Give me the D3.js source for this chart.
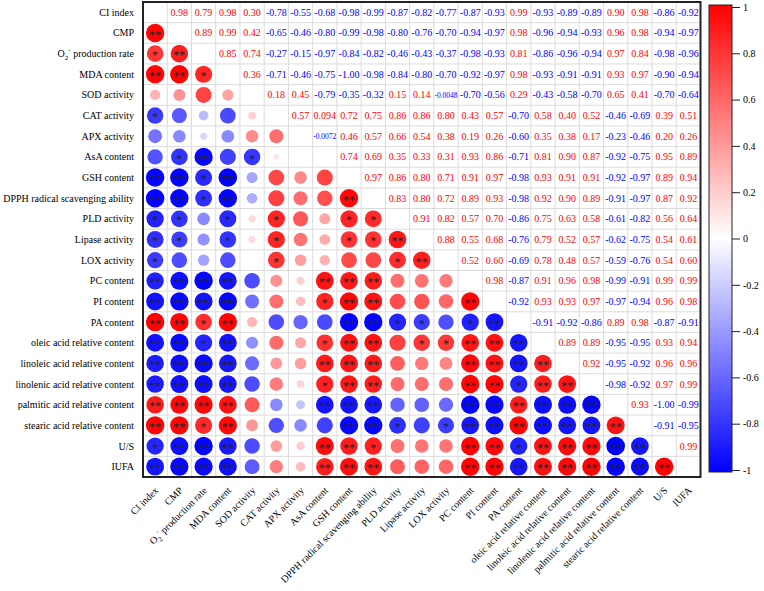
<!DOCTYPE html>
<html><head><meta charset="utf-8">
<script src="https://cdn.jsdelivr.net/npm/d3@7"></script>
<style>body{margin:0;background:#fff}</style>
</head><body>
<svg id="c" width="764" height="591"></svg>
<script>
const variables = ["CI index","CMP","O2- production rate","MDA content","SOD activity","CAT activity","APX activity","AsA content","GSH content","DPPH radical scavenging ability","PLD activity","Lipase activity","LOX activity","PC content","PI content","PA content","oleic acid relative content","linoleic acid relative content","linolenic acid relative content","palmitic acid relative content","stearic acid relative content","U/S","IUFA"];

// upper triangle: row a, values for columns a+1 .. 22
const upperRows = [
 [0.98,0.79,0.98,0.30,-0.78,-0.55,-0.68,-0.98,-0.99,-0.87,-0.82,-0.77,-0.87,-0.93,0.99,-0.93,-0.89,-0.89,0.90,0.98,-0.86,-0.92],
 [0.89,0.99,0.42,-0.65,-0.46,-0.80,-0.99,-0.98,-0.80,-0.76,-0.70,-0.94,-0.97,0.98,-0.96,-0.94,-0.93,0.96,0.98,-0.94,-0.97],
 [0.85,0.74,-0.27,-0.15,-0.97,-0.84,-0.82,-0.46,-0.43,-0.37,-0.98,-0.93,0.81,-0.86,-0.96,-0.94,0.97,0.84,-0.98,-0.96],
 [0.36,-0.71,-0.46,-0.75,-1.00,-0.98,-0.84,-0.80,-0.70,-0.92,-0.97,0.98,-0.93,-0.91,-0.91,0.93,0.97,-0.90,-0.94],
 [0.18,0.45,-0.79,-0.35,-0.32,0.15,0.14,-0.0048,-0.70,-0.56,0.29,-0.43,-0.58,-0.70,0.65,0.41,-0.70,-0.64],
 [0.57,0.094,0.72,0.75,0.86,0.86,0.80,0.43,0.57,-0.70,0.58,0.40,0.52,-0.46,-0.69,0.39,0.51],
 [-0.0072,0.46,0.57,0.66,0.54,0.38,0.19,0.26,-0.60,0.35,0.38,0.17,-0.23,-0.46,0.20,0.26],
 [0.74,0.69,0.35,0.33,0.31,0.93,0.86,-0.71,0.81,0.90,0.87,-0.92,-0.75,0.95,0.89],
 [0.97,0.86,0.80,0.71,0.91,0.97,-0.98,0.93,0.91,0.91,-0.92,-0.97,0.89,0.94],
 [0.83,0.80,0.72,0.89,0.93,-0.98,0.92,0.90,0.89,-0.91,-0.97,0.87,0.92],
 [0.91,0.82,0.57,0.70,-0.86,0.75,0.63,0.58,-0.61,-0.82,0.56,0.64],
 [0.88,0.55,0.68,-0.76,0.79,0.52,0.57,-0.62,-0.75,0.54,0.61],
 [0.52,0.60,-0.69,0.78,0.48,0.57,-0.59,-0.76,0.54,0.60],
 [0.98,-0.87,0.91,0.96,0.98,-0.99,-0.91,0.99,0.99],
 [-0.92,0.93,0.93,0.97,-0.97,-0.94,0.96,0.98],
 [-0.91,-0.92,-0.86,0.89,0.98,-0.87,-0.91],
 [0.89,0.89,-0.95,-0.95,0.93,0.94],
 [0.92,-0.95,-0.92,0.96,0.96],
 [-0.98,-0.92,0.97,0.99],
 [0.93,-1.00,-0.99],
 [-0.91,-0.95],
 [0.99]
];

// lower triangle significance marks: row i, columns 0 .. i-1
const significance = [
 [],
 ["**"],
 ["*","**"],
 ["**","**","*"],
 ["","","",""],
 ["*","","","",""],
 ["","","","","",""],
 ["","*","**","","*","",""],
 ["**","**","*","**","","","",""],
 ["**","**","*","**","","","","","**"],
 ["*","*","","*","","*","","","*","*"],
 ["*","*","","*","","*","","","*","*","**"],
 ["*","","","","","*","","","","","*","**"],
 ["**","**","**","**","","","","**","**","**","","",""],
 ["**","**","**","**","","","","*","**","**","","","","**"],
 ["**","**","*","**","","","","","**","**","*","*","","*","**"],
 ["**","**","*","**","","","","*","**","**","","*","*","**","**","**"],
 ["**","**","**","**","","","","**","**","**","","","","**","**","**","**"],
 ["**","**","**","**","","","","*","**","**","","","","**","**","*","**","**"],
 ["**","**","**","**","","","","**","**","**","","","","**","**","**","**","**","**"],
 ["**","**","*","**","","","","","**","**","*","","*","**","**","**","**","**","**","**"],
 ["*","**","**","**","","","","**","**","*","","","","**","**","*","**","**","**","**","**"],
 ["**","**","**","**","","","","**","**","**","","","","**","**","**","**","**","**","**","**","**"]
];

const colorbarTicks = [1,0.8,0.6,0.4,0.2,0,-0.2,-0.4,-0.6,-0.8,-1];
const colorbarTickLabels = ["1","0.8","0.6","0.4","0.2","0","-0.2","-0.4","-0.6","-0.8","-1"];

const n = variables.length;
const corr = d3.range(n).map(() => d3.range(n).map(() => 1));
upperRows.forEach((row, a) => row.forEach((v, k) => { const b = a + 1 + k; corr[a][b] = v; corr[b][a] = v; }));

const svg = d3.select("#c");
const X0 = 143, X1 = 700.5, Y0 = 2, Y1 = 477;
const x = d3.scaleBand().domain(d3.range(n)).range([X0, X1]);
const y = d3.scaleBand().domain(d3.range(n)).range([Y0, Y1]);
const color = d3.scaleLinear().domain([-1, 0, 1]).range(["#0000ff", "#ffffff", "#ff0000"]);
const rScale = d3.scaleSqrt().domain([0, 1]).range([0, 9.3]);
const loc = d3.formatLocale({decimal: ".", thousands: ",", grouping: [3], currency: ["", ""], minus: "-"});
const f2 = loc.format(".2f"), fg = loc.format(".2g");
const fmt = v => Math.abs(v) < 0.1 ? fg(v) : f2(v);
const FONT = "'Liberation Serif','Times New Roman',serif";

// background
svg.append("rect").attr("x", X0).attr("y", Y0).attr("width", X1 - X0).attr("height", Y1 - Y0).attr("fill", "#fff");

// grid
const g = svg.append("g");
d3.range(1, n).forEach(i => {
  g.append("line").attr("x1", x(i)).attr("x2", x(i)).attr("y1", Y0).attr("y2", Y1).attr("stroke", "#dcdcdc").attr("stroke-width", 1);
  g.append("line").attr("y1", y(i)).attr("y2", y(i)).attr("x1", X0).attr("x2", X1).attr("stroke", "#dcdcdc").attr("stroke-width", 1);
});

const cells = [];
for (let i = 0; i < n; i++) for (let j = 0; j < n; j++) if (i !== j) cells.push({i, j, v: corr[i][j]});

// upper: numbers
svg.append("g").selectAll("text").data(cells.filter(c => j_gt(c))).join("text")
  .attr("x", c => x(c.j) + x.bandwidth() / 2)
  .attr("y", c => y(c.i) + y.bandwidth() / 2)
  .attr("dy", "0.35em")
  .attr("text-anchor", "middle")
  .attr("font-family", FONT)
  .attr("font-size", c => fmt(c.v).length > 5 ? 7.5 : 10)
  .attr("fill", c => c.v >= 0 ? "#ff0000" : "#0000ff")
  .text(c => fmt(c.v));
function j_gt(c) { return c.j > c.i; }

// lower: circles
const lower = cells.filter(c => c.j < c.i);
svg.append("g").selectAll("circle").data(lower).join("circle")
  .attr("cx", c => x(c.j) + x.bandwidth() / 2)
  .attr("cy", c => y(c.i) + y.bandwidth() / 2)
  .attr("r", c => rScale(Math.abs(c.v)))
  .attr("fill", c => color(c.v));
svg.append("g").selectAll("text").data(lower.filter(c => significance[c.i][c.j])).join("text")
  .attr("x", c => x(c.j) + x.bandwidth() / 2)
  .attr("y", c => y(c.i) + y.bandwidth() / 2)
  .attr("dy", "0.47em")
  .attr("text-anchor", "middle")
  .attr("font-family", FONT)
  .attr("font-size", 12)
  .attr("fill", "#222")
  .text(c => significance[c.i][c.j]);

// border
svg.append("rect").attr("x", X0).attr("y", Y0).attr("width", X1 - X0).attr("height", Y1 - Y0)
  .attr("fill", "none").attr("stroke", "#222").attr("stroke-width", 2);

function labelText(sel, name) {
  if (name.startsWith("O2-")) {
    sel.append("tspan").text("O");
    sel.append("tspan").attr("font-size", 7).attr("dy", 3).text("2");
    sel.append("tspan").attr("font-size", 7).attr("dy", -8).text("-");
    sel.append("tspan").attr("dy", 5).text(" production rate");
  } else sel.text(name);
}

// row labels
variables.forEach((name, i) => {
  const t = svg.append("text").attr("x", X0 - 9).attr("y", y(i) + y.bandwidth() / 2).attr("dy", "0.35em")
    .attr("text-anchor", "end").attr("font-family", FONT).attr("font-size", 10).attr("fill", "#000");
  labelText(t, name);
});
// column labels
variables.forEach((name, i) => {
  const cx = x(i) + x.bandwidth() / 2 + 4, cy = Y1 + 14;
  const t = svg.append("text").attr("transform", `translate(${cx},${cy}) rotate(-45)`)
    .attr("text-anchor", "end").attr("font-family", FONT).attr("font-size", 10).attr("fill", "#000");
  labelText(t, name);
});

// colorbar
const CB_X = 709, CB_W = 23, CB_Y0 = 5, CB_Y1 = 472;
const defs = svg.append("defs");
const grad = defs.append("linearGradient").attr("id", "cbg").attr("x1", 0).attr("x2", 0).attr("y1", 0).attr("y2", 1);
d3.range(0, 1.0001, 0.05).forEach(t => grad.append("stop").attr("offset", t).attr("stop-color", color(1 - 2 * t)));
svg.append("rect").attr("x", CB_X).attr("y", CB_Y0).attr("width", CB_W).attr("height", CB_Y1 - CB_Y0)
  .attr("fill", "url(#cbg)").attr("stroke", "#222").attr("stroke-width", 1);
const cbScale = d3.scaleLinear().domain([1, -1]).range([7, 470]);
const cbAxis = d3.axisRight(cbScale).tickValues(colorbarTicks).tickSize(8).tickFormat((d, k) => colorbarTickLabels[k]);
const ag = svg.append("g").attr("transform", `translate(${CB_X + CB_W},0)`).call(cbAxis);
ag.select(".domain").remove();
ag.selectAll("text").attr("font-family", FONT).attr("font-size", 10).attr("fill", "#000").attr("x", 11);
ag.selectAll("line").attr("stroke", "#222");
</script>
</body></html>
